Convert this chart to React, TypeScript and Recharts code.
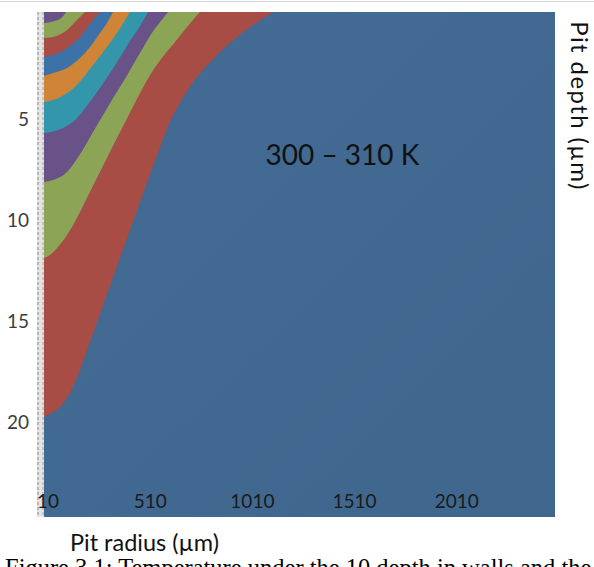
import { Area, AreaChart, CartesianGrid, ReferenceDot, XAxis, YAxis } from 'recharts'

// tick values printed on the figure (µm)
const radiusTicks = [10, 510, 1010, 1510, 2010]
const depthTicks = [5, 10, 15, 20]

// Contour edges as [pit radius, pit depth] pairs.
// edge1 is the tiny corner one, edge9 the last one before the 300–310 K plateau.
const edge1 = [[10, 0.54], [54, 0.47], [88, 0.35], [108, 0.15], [118, 0]]
const edge2 = [[10, 1.29], [54, 1.24], [123, 0.89], [171, 0.4], [211, 0]]
const edge3 = [[10, 2.23], [54, 2.13], [123, 1.78], [186, 1.24], [235, 0.59], [284, 0]]
const edge4 = [[10, 3.17], [54, 3.02], [123, 2.77], [186, 2.28], [235, 1.73], [284, 1.04], [318, 0.54], [348, 0]]
const edge5 = [
  [10, 4.46], [54, 4.36], [123, 4.01], [171, 3.61], [220, 3.02], [269, 2.38], [318, 1.73], [367, 1.04],
  [401, 0.5], [431, 0],
]
const edge6 = [
  [10, 5.99], [64, 5.89], [113, 5.69], [162, 5.35], [201, 4.9], [245, 4.31], [294, 3.61], [343, 2.87],
  [392, 2.08], [440, 1.29], [480, 0.69], [519, 0],
]
const edge7 = [
  [10, 8.42], [54, 8.32], [123, 7.92], [171, 7.28], [211, 6.63], [250, 5.94], [299, 5.1], [348, 4.26],
  [397, 3.47], [445, 2.62], [494, 1.78], [538, 1.04], [578, 0.5], [617, 0],
]
const edge8 = [
  [10, 12.18], [39, 12.03], [74, 11.68], [123, 11.04], [171, 10.2], [220, 9.21], [269, 8.22], [318, 7.23],
  [357, 6.44], [397, 5.64], [455, 4.5], [529, 3.12], [587, 2.28], [651, 1.49], [714, 0.69], [773, 0],
]
const edge9 = [
  [10, 20.05], [39, 19.9], [88, 19.55], [137, 18.86], [186, 17.72], [235, 16.34], [284, 14.95], [333, 13.56],
  [382, 12.18], [431, 10.79], [480, 9.41], [529, 8.02], [578, 6.7], [602, 6.05], [626, 5.45], [661, 4.75],
  [690, 4.24], [724, 3.7], [773, 3.05], [807, 2.65], [856, 2.15], [886, 1.85], [935, 1.4], [984, 1.0],
  [1018, 0.75], [1081, 0.32], [1130, 0],
]

const edges: Record<string, number[][]> = { edge1, edge2, edge3, edge4, edge5, edge6, edge7, edge8, edge9 }

// band colour = colour on the corner side of each edge; drawn outermost first
const bands = [
  { key: 'edge9', fill: '#a84c46' },
  { key: 'edge8', fill: '#8ca456' },
  { key: 'edge7', fill: '#685287' },
  { key: 'edge6', fill: '#3496aa' },
  { key: 'edge5', fill: '#d08438' },
  { key: 'edge4', fill: '#3c72a8' },
  { key: 'edge3', fill: '#a84c46' },
  { key: 'edge2', fill: '#8ca456' },
  { key: 'edge1', fill: '#685287' },
]

// one row per radius that any edge uses; edges without a point there stay empty (connectNulls)
const radii = Array.from(new Set(Object.values(edges).flatMap(e => e.map(p => p[0])))).sort((a, b) => a - b)
const rows = radii.map(r => {
  const row: Record<string, number> = { radius: r }
  for (const [k, pts] of Object.entries(edges)) {
    const hit = pts.find(p => p[0] === r)
    if (hit) row[k] = hit[1]
  }
  return row
})

const FONT = 'Lato, "Open Sans", sans-serif'

function RadiusTick(props: any) {
  const { x, y, payload } = props
  return (
    <text x={x + 4} y={y - 9} textAnchor="middle" fontSize={19} fontFamily={FONT} fill="#1a1a1a">
      {payload.value}
    </text>
  )
}

function DepthTick(props: any) {
  const { x, y, payload } = props
  return (
    <text x={x - 15} y={y + 5} textAnchor="end" dominantBaseline="central" fontSize={19} fontFamily={FONT} fill="#3c3c3c">
      {payload.value}
    </text>
  )
}

export default function App() {
  return (
    <div style={{ position: 'absolute', left: 0, top: 0, width: 594, height: 567, overflow: 'hidden', background: '#fff' }}>
      {/* backdrop: thin rule on top and the grey dashed wall left of the surface */}
      <svg width={594} height={567} style={{ position: 'absolute', left: 0, top: 0 }}>
        <line x1={0} y1={1.5} x2={594} y2={1.5} stroke="#d8d8d8" strokeWidth={1} />
        <rect x={37} y={12} width={7} height={505} fill="#e4e4e4" />
        <line x1={38} y1={12} x2={38} y2={517} stroke="#b8b8b8" strokeWidth={2} strokeDasharray="3 2" />
        <line x1={43} y1={12} x2={43} y2={517} stroke="#c4c4c4" strokeWidth={2} strokeDasharray="3 2" />
      </svg>
      <div style={{ position: 'absolute', left: 0, top: 0 }}>
        <AreaChart width={594} height={530} data={rows} margin={{ top: 12, right: 39, bottom: 0, left: 0 }}>
          <defs>
            <linearGradient id="plateau" x1="0" y1="0" x2="1" y2="1">
              <stop offset="0%" stopColor="#436c95" />
              <stop offset="100%" stopColor="#3f668d" />
            </linearGradient>
          </defs>
          <CartesianGrid fill="url(#plateau)" horizontal={false} vertical={false} stroke="none" />
          <XAxis
            dataKey="radius"
            type="number"
            domain={[10, 2510]}
            ticks={radiusTicks}
            interval={0}
            height={13}
            tickSize={0}
            tickMargin={0}
            axisLine={false}
            tickLine={false}
            tick={p => <RadiusTick {...p} />}
          />
          <YAxis
            type="number"
            domain={[0, 25]}
            reversed
            ticks={depthTicks}
            interval={0}
            width={44}
            tickSize={0}
            tickMargin={0}
            axisLine={false}
            tickLine={false}
            tick={p => <DepthTick {...p} />}
          />
          {bands.map(b => (
            <Area
              key={b.key}
              dataKey={b.key}
              type="monotone"
              baseValue={0}
              connectNulls
              fill={b.fill}
              fillOpacity={1}
              stroke="none"
              dot={false}
              activeDot={false}
              isAnimationActive={false}
            />
          ))}
          <ReferenceDot
            x={1470}
            y={7.08}
            r={0}
            fill="none"
            stroke="none"
            label={{ value: '300 – 310 K', position: 'center', fontSize: 28, fontFamily: FONT, fill: '#111' }}
          />
        </AreaChart>
      </div>
      <svg width={594} height={567} style={{ position: 'absolute', left: 0, top: 0, pointerEvents: 'none' }}>
        <text x={70} y={551} fontSize={23.5} fontFamily={FONT} fill="#111">
          Pit radius (µm)
        </text>
        <text
          transform="translate(580.5,106) rotate(90)"
          textAnchor="middle"
          dominantBaseline="central"
          fontSize={24}
          letterSpacing={1.4}
          fontFamily={FONT}
          fill="#111"
        >
          Pit depth (µm)
        </text>
        <text x={5} y={576} fontSize={24.5} fontFamily='"Liberation Serif", "Times New Roman", serif' fill="#000">
          Figure 3.1: Temperature under the 10 depth in walls and the
        </text>
      </svg>
    </div>
  )
}
